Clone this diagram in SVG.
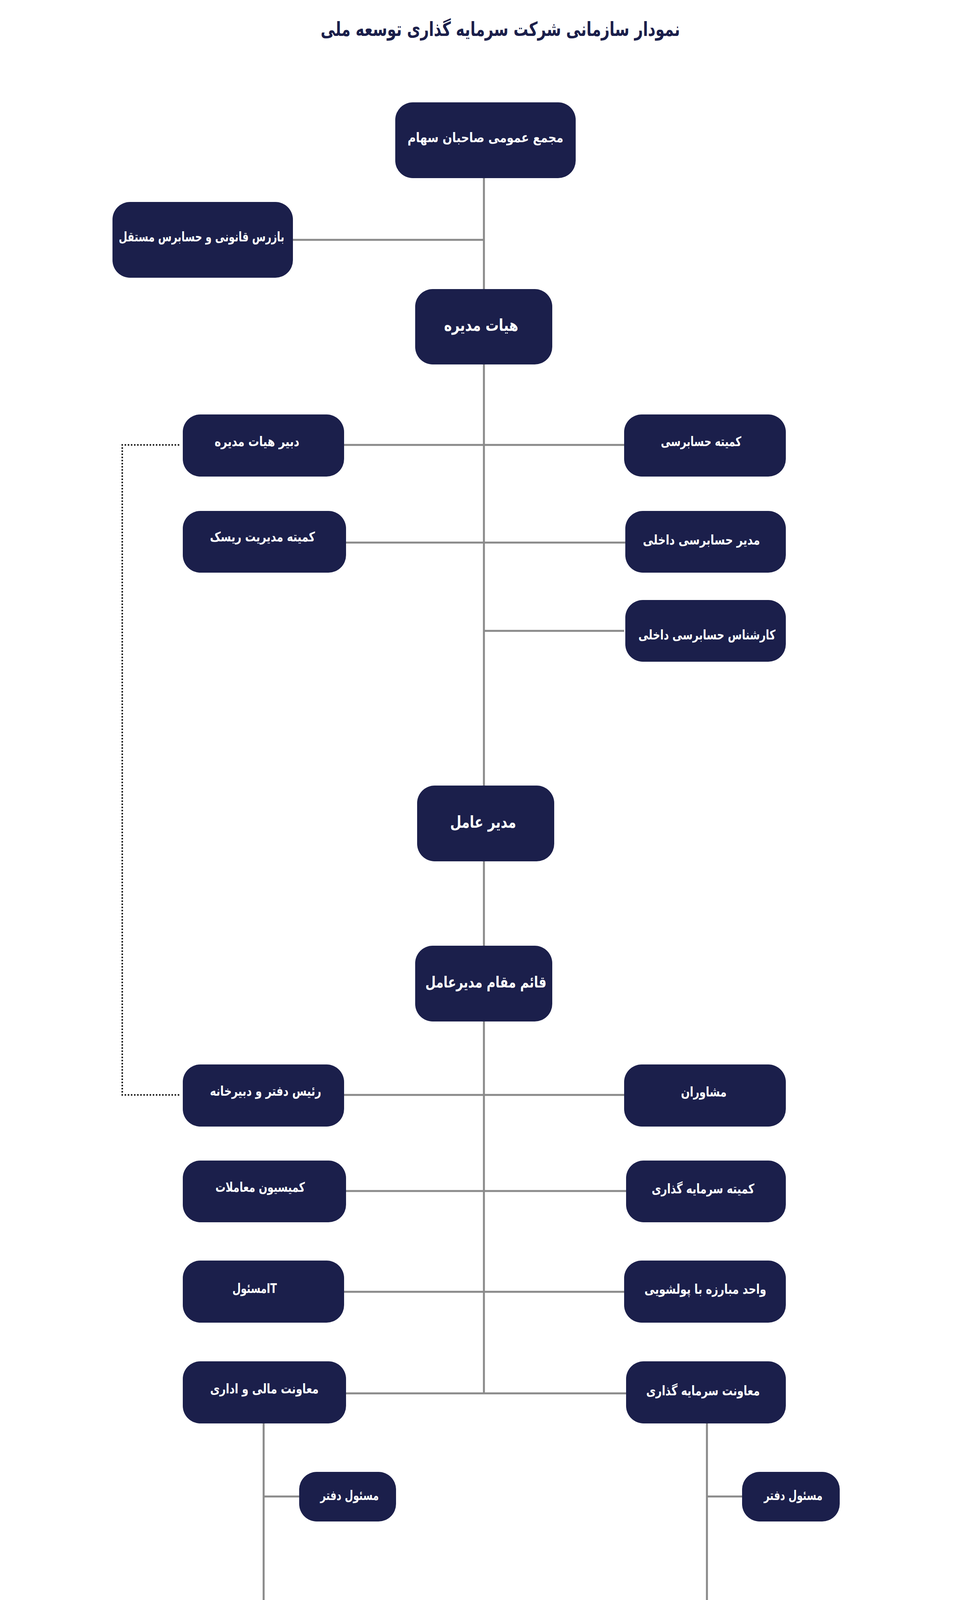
<svg xmlns="http://www.w3.org/2000/svg" width="2481" height="5282" viewBox="0 0 2481 5282">
<style>
.n{fill:#1b1f4b}
.t{fill:#fff;font-family:"DejaVu Sans Condensed","DejaVu Sans",sans-serif;font-weight:bold;font-size:34px;text-anchor:middle;dominant-baseline:central}
.s{font-size:28px}
.c{stroke:#8a8a8a;stroke-width:5;fill:none}
.d{stroke:#222;stroke-width:4;stroke-dasharray:4 4;fill:none}
</style>
<rect width="2481" height="5282" fill="#fff"/>
<text x="1281" y="75" textLength="920" lengthAdjust="spacingAndGlyphs" style="font-family:'DejaVu Sans Condensed','DejaVu Sans',sans-serif;font-weight:bold;font-size:50px;fill:#1b1f4b" text-anchor="middle" dominant-baseline="central">نمودار سازمانی شرکت سرمایه گذاری توسعه ملی</text>
<g id="connectors">
<path class="c" d="M1239 456V2011M1239 2205V2421M1239 2615V3567"/>
<path class="c" d="M750 614H1239M881 1139H1598M886 1389H1601M1239 1615H1598"/>
<path class="c" d="M881 2803H1598M886 3049H1603M881 3307H1598M886 3567H1603"/>
<path class="c" d="M675 3644V4128M675 3831H766M435 4128H914M435 4128V4250M914 4128V4250"/>
<path class="c" d="M1810 3644V4128M1810 3831H1900M1571 4128H2052M1571 4128V4250M2052 4128V4250"/>
<path class="c" d="M915 4377V4435M715 4435H1117M715 4435V4520M1117 4435V4517M1117 4645V4761"/>
<path class="c" d="M1568 4377V4513M1568 4641V4759M2052 4377V4515M2052 4643V4761"/>
<path class="c" d="M432 4377V5188M263 4966H432M263 5188H432"/>
<path class="d" d="M459 1139H313V2803H459"/>
</g>
<g id="n1"><rect class="n" x="1012" y="262" width="462" height="194" rx="45"/><text class="t" x="1243" y="352" textLength="399" lengthAdjust="spacingAndGlyphs">مجمع عمومی صاحبان سهام</text></g>
<g id="n2"><rect class="n" x="288" y="517" width="462" height="194" rx="45"/><text class="t" x="516" y="606" textLength="424" lengthAdjust="spacingAndGlyphs">بازرس قانونی و حسابرس مستقل</text></g>
<g id="n3"><rect class="n" x="1063" y="740" width="351" height="193" rx="45"/><text class="t" x="1232" y="832" style="font-size:42px" textLength="190" lengthAdjust="spacingAndGlyphs">هیات مدیره</text></g>
<g id="n4"><rect class="n" x="468" y="1061" width="413" height="159" rx="45"/><text class="t" x="658" y="1130" textLength="217" lengthAdjust="spacingAndGlyphs">دبیر هیات مدیره</text></g>
<g id="n5"><rect class="n" x="1598" y="1061" width="414" height="159" rx="45"/><text class="t" x="1795" y="1130" textLength="206" lengthAdjust="spacingAndGlyphs">کمیته حسابرسی</text></g>
<g id="n6"><rect class="n" x="468" y="1308" width="418" height="158" rx="45"/><text class="t" x="672" y="1374" textLength="269" lengthAdjust="spacingAndGlyphs">کمیته مدیریت ریسک</text></g>
<g id="n7"><rect class="n" x="1601" y="1308" width="411" height="158" rx="45"/><text class="t" x="1796" y="1382" textLength="300" lengthAdjust="spacingAndGlyphs">مدیر حسابرسی داخلی</text></g>
<g id="n8"><rect class="n" x="1601" y="1536" width="411" height="158" rx="45"/><text class="t" x="1810" y="1625" textLength="351" lengthAdjust="spacingAndGlyphs">کارشناس حسابرسی داخلی</text></g>
<g id="n9"><rect class="n" x="1068" y="2011" width="351" height="194" rx="45"/><text class="t" x="1237" y="2104" style="font-size:42px" textLength="169" lengthAdjust="spacingAndGlyphs">مدیر عامل</text></g>
<g id="n10"><rect class="n" x="1063" y="2421" width="351" height="194" rx="45"/><text class="t" x="1244" y="2514" style="font-size:40px" textLength="310" lengthAdjust="spacingAndGlyphs">قائم مقام مدیرعامل</text></g>
<g id="n11"><rect class="n" x="468" y="2725" width="413" height="159" rx="45"/><text class="t" x="680" y="2793" textLength="285" lengthAdjust="spacingAndGlyphs">رئیس دفتر و دبیرخانه</text></g>
<g id="n12"><rect class="n" x="1598" y="2725" width="414" height="159" rx="45"/><text class="t" x="1802" y="2795" textLength="117" lengthAdjust="spacingAndGlyphs">مشاوران</text></g>
<g id="n13"><rect class="n" x="468" y="2971" width="418" height="158" rx="45"/><text class="t" x="666" y="3039" textLength="229" lengthAdjust="spacingAndGlyphs">کمیسیون معاملات</text></g>
<g id="n14"><rect class="n" x="1603" y="2971" width="409" height="158" rx="45"/><text class="t" x="1800" y="3043" textLength="263" lengthAdjust="spacingAndGlyphs">کمیته سرمایه گذاری</text></g>
<g id="n15"><rect class="n" x="468" y="3227" width="413" height="159" rx="45"/><text class="t" x="652" y="3298" textLength="114" lengthAdjust="spacingAndGlyphs">مسئولIT</text></g>
<g id="n16"><rect class="n" x="1598" y="3227" width="414" height="159" rx="45"/><text class="t" x="1806" y="3300" textLength="312" lengthAdjust="spacingAndGlyphs">واحد مبارزه با پولشویی</text></g>
<g id="n17"><rect class="n" x="468" y="3485" width="418" height="159" rx="45"/><text class="t" x="677" y="3555" textLength="278" lengthAdjust="spacingAndGlyphs">معاونت مالی و اداری</text></g>
<g id="n18"><rect class="n" x="1603" y="3485" width="409" height="159" rx="45"/><text class="t" x="1800" y="3560" textLength="291" lengthAdjust="spacingAndGlyphs">معاونت سرمایه گذاری</text></g>
<g id="n19"><rect class="n" x="766" y="3768" width="248" height="127" rx="45"/><text class="t" x="895" y="3828" textLength="150" lengthAdjust="spacingAndGlyphs">مسئول دفتر</text></g>
<g id="n20"><rect class="n" x="1900" y="3768" width="250" height="127" rx="45"/><text class="t" x="2031" y="3828" textLength="150" lengthAdjust="spacingAndGlyphs">مسئول دفتر</text></g>
<g id="n21"><rect class="n" x="290" y="4250" width="289" height="127" rx="45"/><text class="t" x="427" y="4316" textLength="153" lengthAdjust="spacingAndGlyphs">مدیر اداری</text></g>
<g id="n22"><rect class="n" x="770" y="4250" width="290" height="127" rx="45"/><text class="t" x="910" y="4316" textLength="136" lengthAdjust="spacingAndGlyphs">مدیر مالی</text></g>
<g id="n23"><rect class="n" x="1427" y="4250" width="289" height="127" rx="45"/><text class="t" x="1570" y="4307" style="font-size:26px" textLength="266" lengthAdjust="spacingAndGlyphs">مدیر تحلیل و ارزش گذاری</text></g>
<g id="n24"><rect class="n" x="1905" y="4250" width="289" height="127" rx="45"/><text class="t" x="2050" y="4292" style="font-size:26px" textLength="161" lengthAdjust="spacingAndGlyphs">مطالعات بازار و</text><text class="t" x="2050" y="4327" style="font-size:26px" textLength="185" lengthAdjust="spacingAndGlyphs">گزارشات کاربردی</text></g>
<g id="n25"><rect class="n" x="604" y="4520" width="220" height="128" rx="45"/><text class="t s" x="713" y="4588" textLength="166" lengthAdjust="spacingAndGlyphs">رئیس امور سهام</text></g>
<g id="n26"><rect class="n" x="1006" y="4517" width="220" height="128" rx="45"/><text class="t s" x="1114" y="4582" textLength="168" lengthAdjust="spacingAndGlyphs">کارشناسان ارشد</text></g>
<g id="n27"><rect class="n" x="1006" y="4761" width="220" height="128" rx="45"/><text class="t s" x="1112" y="4827" textLength="111" lengthAdjust="spacingAndGlyphs">کارشناسان</text></g>
<g id="n28"><rect class="n" x="1429" y="4513" width="289" height="128" rx="45"/><text class="t s" x="1568" y="4572" textLength="180" lengthAdjust="spacingAndGlyphs">کارشناسان ارشد</text></g>
<g id="n29"><rect class="n" x="1424" y="4759" width="289" height="128" rx="45"/><text class="t" x="1563" y="4820" style="font-size:24px" textLength="106" lengthAdjust="spacingAndGlyphs">کارشناسان</text></g>
<g id="n30"><rect class="n" x="1906" y="4515" width="291" height="128" rx="45"/><text class="t s" x="2050" y="4570" textLength="190" lengthAdjust="spacingAndGlyphs">کارشناسان ارشد</text></g>
<g id="n31"><rect class="n" x="1910" y="4761" width="289" height="129" rx="45"/><text class="t s" x="2053" y="4815" textLength="123" lengthAdjust="spacingAndGlyphs">کارشناسان</text></g>
<g id="n32"><rect class="n" x="43" y="4904" width="220" height="129" rx="45"/><text class="t s" x="153" y="4966" textLength="188" lengthAdjust="spacingAndGlyphs">کارمندان اداری</text></g>
<g id="n33"><rect class="n" x="43" y="5125" width="220" height="129" rx="45"/><text class="t s" x="150" y="5186" textLength="89" lengthAdjust="spacingAndGlyphs">خدمات</text></g>
</svg>
